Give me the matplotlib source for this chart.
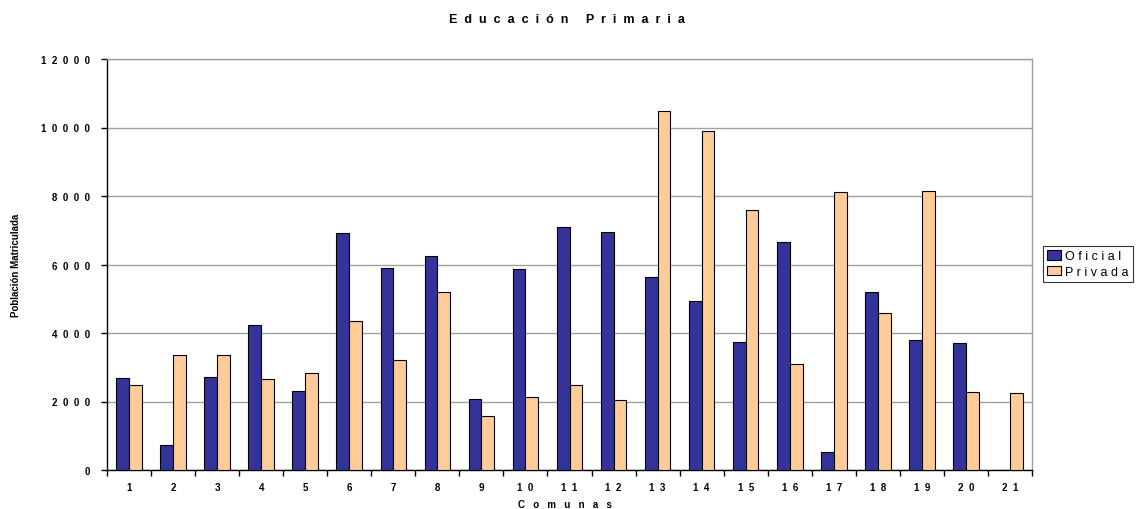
import matplotlib
matplotlib.use("Agg")
import matplotlib.pyplot as plt
import numpy as np
from matplotlib.ticker import FuncFormatter, FixedLocator, NullFormatter

plt.rcParams['font.family'] = ['Liberation Sans', 'DejaVu Sans']

comunas = [str(i) for i in range(1, 22)]
oficial = [2690, 740, 2720, 4220, 2320, 6910, 5900, 6240, 2080, 5860, 7090,
           6950, 5640, 4930, 3740, 6660, 520, 5190, 3800, 3700, 0]
privada = [2490, 3360, 3360, 2650, 2840, 4360, 3210, 5190, 1570, 2120, 2490,
           2050, 10470, 9910, 7580, 3100, 8110, 4590, 8150, 2290, 2240]
yticks = [0, 2000, 4000, 6000, 8000, 10000, 12000]

def spaced(s, n=2):
    return (" " * n).join(list(s))

fig = plt.figure(figsize=(11.46, 5.10), dpi=100)
ax = fig.add_axes([107/1146, 39/510, 925/1146, 411/510])

x = np.arange(len(comunas))
w = 0.29
ax.bar(x - w/2, oficial, width=w, color='#333399', edgecolor='black', linewidth=0.8,
       label=spaced('Oficial', 1), zorder=3)
ax.bar(x + w/2, privada, width=w, color='#FFCC99', edgecolor='black', linewidth=0.8,
       label=spaced('Privada', 1), zorder=3)

ax.set_xlim(-0.5, len(comunas) - 0.5)
ax.set_ylim(0, 12000)
ax.set_yticks(yticks)
ax.yaxis.set_major_formatter(FuncFormatter(lambda v, p: spaced(str(int(v)))))
ax.grid(axis='y', color='#a0a0a0', linewidth=1.0, zorder=0)

ax.xaxis.set_major_locator(FixedLocator(np.arange(-0.5, len(comunas), 1.0)))
ax.xaxis.set_major_formatter(NullFormatter())
ax.xaxis.set_minor_locator(FixedLocator(x))
ax.set_xticklabels([spaced(c) for c in comunas], minor=True)
ax.tick_params(axis='x', which='minor', length=0, pad=9, labelsize=7)
ax.tick_params(axis='x', which='major', length=4, direction='out', width=1)
ax.tick_params(axis='y', length=4, direction='out', width=1, labelsize=7, pad=8)
for lab in ax.get_xticklabels(minor=True) + ax.get_yticklabels():
    lab.set_fontweight('bold')

ax.spines['left'].set_color('black')
ax.spines['bottom'].set_color('black')
ax.spines['top'].set_color('#a0a0a0')
ax.spines['right'].set_color('#a0a0a0')
for s in ax.spines.values():
    s.set_linewidth(1.0)

fig.text(567/1146, 1 - 20/510, spaced('Educación') + '     ' + spaced('Primaria'),
         ha='center', va='center', fontsize=9, fontweight='bold')
fig.text(565/1146, 1 - 505/510, spaced('Comunas', 3), ha='center', va='center',
         fontsize=7, fontweight='bold')
fig.text(16/1146, 1 - 265/510, 'Población Matriculada', rotation=90, ha='center',
         va='center', fontsize=7, fontweight='bold')

leg = fig.legend(loc='center left', bbox_to_anchor=(1043/1146, 1 - 265/510),
                 frameon=True, fancybox=False, edgecolor='black', fontsize=9,
                 handlelength=1.1, handleheight=0.8, handletextpad=0.3,
                 borderpad=0.35, labelspacing=0.25, borderaxespad=0)
leg.get_frame().set_linewidth(0.8)

fig.savefig('out.png', dpi=100)
